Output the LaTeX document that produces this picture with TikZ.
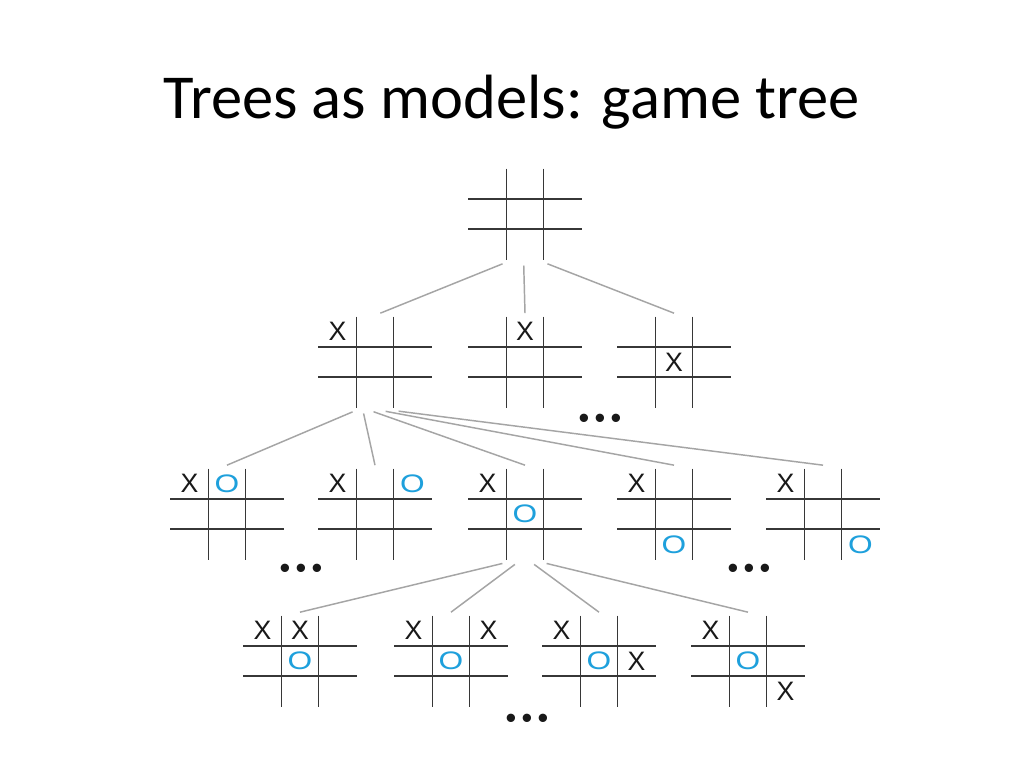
\documentclass[tikz,border=0pt]{standalone}
\usepackage{fontspec}
\usepackage{graphicx}
\setmainfont{Carlito}
\newfontfamily\markfont{Liberation Sans}
\usetikzlibrary{calc}

\definecolor{oblue}{RGB}{30,160,220}
\definecolor{gridgray}{RGB}{55,55,55}
\definecolor{edgegray}{RGB}{165,165,165}

\tikzset{
  gridline/.style={draw=gridgray,line width=1.1pt},
  edge/.style={draw=edgegray,line width=1.1pt,shorten <=2pt},
  board/.style={minimum width=85.5pt,minimum height=68.25pt,inner sep=0pt,outer sep=2.5pt,
    path picture={
      \foreach \s in {-1,1}{
        \draw[gridline] ([xshift=\s*14.06pt]path picture bounding box.north) -- ([xshift=\s*14.06pt]path picture bounding box.south);
        \draw[gridline] ([yshift=\s*11.25pt]path picture bounding box.west) -- ([yshift=\s*11.25pt]path picture bounding box.east);
      }
    }},
  xmark/.style={inner sep=0pt,text=black!90,font=\markfont\fontsize{20pt}{22pt}\selectfont},
  omark/.style={inner sep=0pt,text=oblue,font=\markfont\fontsize{19pt}{22pt}\selectfont},
  dots/.style={inner sep=0pt,text=black!90,font=\markfont\fontsize{23pt}{26pt}\selectfont},
}

% X or O in a cell: board, column offset, row offset
\newcommand{\cellX}[3]{\node[xmark] (#1X#2#3) at ($(#1)+(#2*37.5,#3*30.5)$) {X};}
\newcommand{\cellO}[3]{\node[omark] (#1O#2#3) at ($(#1)+(#2*37.5,#3*30.5)$) {\scalebox{1.25}[1]{O}};}

\begin{document}
\begin{tikzpicture}[x=0.75pt,y=-0.75pt]
\useasboundingbox (0,0) rectangle (1024,768);
\fill[white] (0,0) rectangle (1024,768);

\node[anchor=base] (title) at (511.5,118) {\fontsize{46.9pt}{52pt}\selectfont Trees as models: game tree};

% empty board
\node[board] (root) at (525,214) {};

% first move
\node[board] (a) at (375,362) {};
\node[board] (b) at (525,362) {};
\node[board] (c) at (674,362) {};
\cellX{a}{-1}{-1}
\cellX{b}{0}{-1}
\cellX{c}{0}{0}
\node[dots] (dotsa) at (600,421) {•\hspace{4pt}•\hspace{4pt}•};

% second move
\node[board] (d) at (227,514) {};
\node[board] (e) at (375,514) {};
\node[board] (f) at (525,514) {};
\node[board] (g) at (674,514) {};
\node[board] (h) at (823,514) {};
\foreach \n in {d,e,f,g,h}{\cellX{\n}{-1}{-1}}
\cellO{d}{0}{-1}
\cellO{e}{1}{-1}
\cellO{f}{0}{0}
\cellO{g}{0}{1}
\cellO{h}{1}{1}
\node[dots] (dotsb) at (301,571) {•\hspace{4pt}•\hspace{4pt}•};
\node[dots] (dotsc) at (749,571) {•\hspace{4pt}•\hspace{4pt}•};

% third move
\node[board] (i) at (300,661) {};
\node[board] (j) at (451,661) {};
\node[board] (k) at (599,661) {};
\node[board] (l) at (748,661) {};
\foreach \n in {i,j,k,l}{\cellX{\n}{-1}{-1}\cellO{\n}{0}{0}}
\cellX{i}{0}{-1}
\cellX{j}{1}{-1}
\cellX{k}{1}{0}
\cellX{l}{1}{1}
\node[dots] (dotsd) at (527,721) {•\hspace{4pt}•\hspace{4pt}•};

% tree edges
\draw[edge] ([xshift=-15pt]root.south) -- ([xshift=4pt]a.north);
\draw[edge] ([xshift=-1pt]root.south) -- (b.north);
\draw[edge] ([xshift=15pt]root.south) -- (c.north);

\draw[edge] ([xshift=-15pt]a.south) -- (d.north);
\draw[edge] ([xshift=-9pt]a.south) -- (e.north);
\draw[edge] ([xshift=-3pt]a.south) -- (f.north);
\draw[edge] ([xshift=6pt]a.south) -- (g.north);
\draw[edge] ([xshift=15.75pt]a.south) -- (h.north);

\draw[edge] ([xshift=-15pt]f.south) -- (i.north);
\draw[edge] ([xshift=-6pt]f.south) -- (j.north);
\draw[edge] ([xshift=5.25pt]f.south) -- (k.north);
\draw[edge] ([xshift=14.25pt]f.south) -- (l.north);
\end{tikzpicture}
\end{document}
